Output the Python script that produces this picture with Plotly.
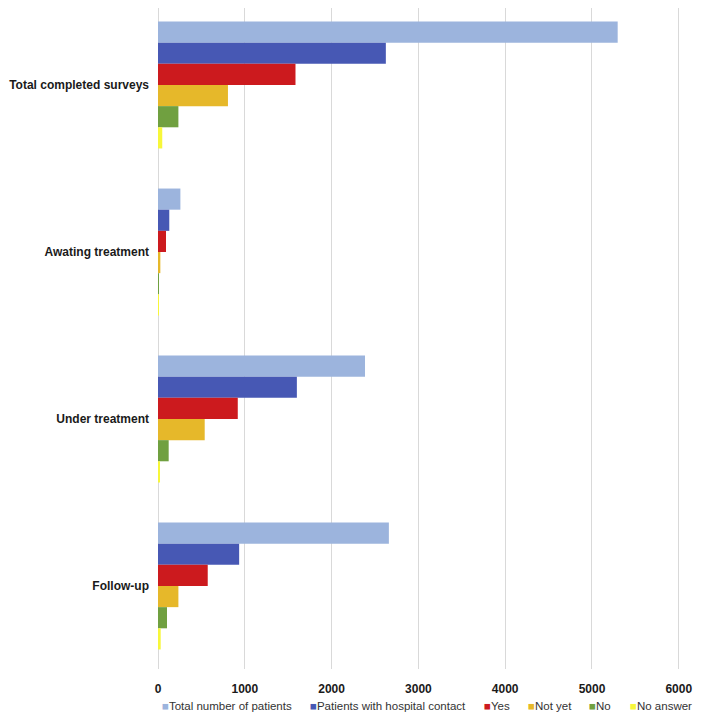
import plotly.graph_objects as go

categories = ["Total completed surveys", "Awating treatment", "Under treatment", "Follow-up"]
series_names = ["Total number of patients", "Patients with hospital contact", "Yes", "Not yet", "No", "No answer"]
total_patients = [5296, 258, 2385, 2660]
hospital_contact = [2625, 130, 1600, 935]
yes_vals = [1584, 92, 919, 573]
not_yet_vals = [806, 27, 538, 235]
no_vals = [235, 6, 123, 104]
no_answer_vals = [49, 4, 15, 31]
tick_vals = [0, 1000, 2000, 3000, 4000, 5000, 6000]

series_values = [total_patients, hospital_contact, yes_vals, not_yet_vals, no_vals, no_answer_vals]
colors = ["#9CB4DD", "#4758B4", "#CC1A1E", "#E6B82A", "#70A040", "#F7F73A"]

W, H = 697, 707
L, R, T, B = 150, 4, 0, 46
FONT = "Liberation Sans, Arial, sans-serif"

fig = go.Figure()
for name, vals, col in zip(series_names, series_values, colors):
    fig.add_trace(go.Bar(
        y=categories, x=vals, name=name, orientation="h",
        marker=dict(color=col, line=dict(width=0)),
        showlegend=False,
    ))

# Custom legend row (text annotations with coloured square markers)
legend_px = [152, 300, 474, 518, 579, 620]
plot_w = W - L - R
annotations = []
for name, col, px in zip(series_names, colors, legend_px):
    annotations.append(dict(
        xref="paper", yref="paper",
        x=(px - L) / plot_w, y=-(698 - (H - B)) / (H - T - B),
        xanchor="left", yanchor="middle", showarrow=False,
        text='<span style="color:%s">■</span>%s' % (col, name),
        font=dict(size=11.5, family=FONT, color="#333333"),
    ))

fig.update_layout(
    width=W, height=H,
    margin=dict(l=L, r=R, t=T, b=B, autoexpand=False),
    paper_bgcolor="white", plot_bgcolor="white",
    barmode="group", bargap=0.24, bargroupgap=0,
    showlegend=False,
    font=dict(family=FONT, color="#1a1a1a"),
    xaxis=dict(
        range=[0, 6256], tickvals=tick_vals, ticktext=[str(v) for v in tick_vals],
        showgrid=True, gridcolor="#D9D9D9", gridwidth=1,
        zeroline=True, zerolinecolor="#D9D9D9", zerolinewidth=1,
        showline=False, ticks="", ticklabelstandoff=11, automargin=False,
        tickfont=dict(size=12, family=FONT, weight="bold", color="#1a1a1a"),
    ),
    yaxis=dict(
        range=[3.497, -0.461], showgrid=False, showline=False, ticks="",
        ticklabelstandoff=8, automargin=False,
        tickfont=dict(size=12, family=FONT, weight="bold", color="#1a1a1a"),
    ),
    annotations=annotations,
    shapes=[dict(type="line", xref="paper", yref="paper", x0=1, x1=1, y0=0, y1=1,
                 line=dict(color="#D9D9D9", width=1))],
)

fig.write_html("out.html")
